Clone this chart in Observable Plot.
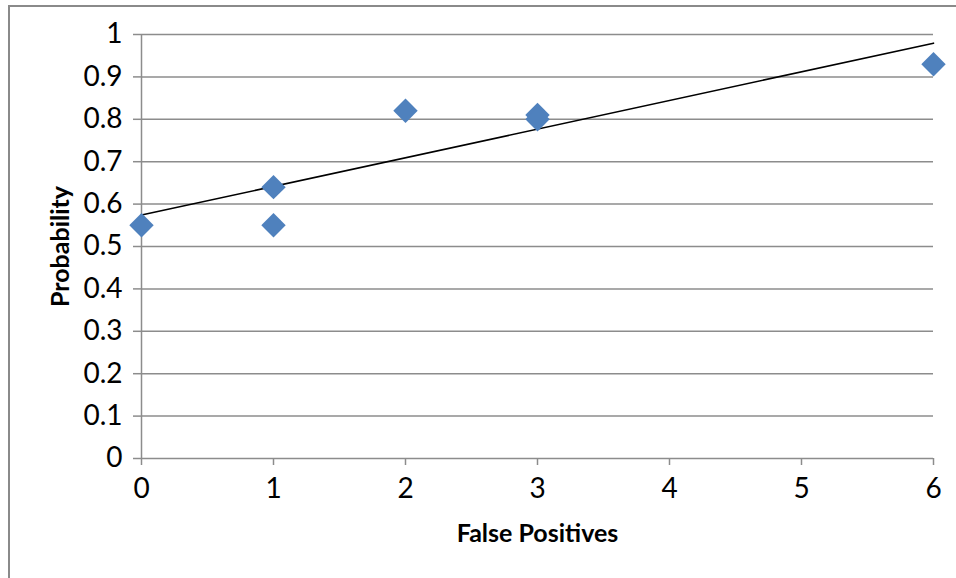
<!DOCTYPE html>
<html>
<head>
<meta charset="utf-8">
<script src="https://cdn.jsdelivr.net/npm/d3@7"></script>
<script src="https://cdn.jsdelivr.net/npm/@observablehq/plot@0.6"></script>
<style>
  html, body { margin: 0; padding: 0; background: #fff; }
  #wrap { position: relative; width: 956px; height: 578px; overflow: hidden; }
  #frame { position: absolute; left: 8px; top: 5px; width: 1000px; height: 1000px;
           border-left: 2px solid #8a8a8a; border-top: 2px solid #8a8a8a; box-sizing: border-box; }
  #chart { position: absolute; left: 0; top: 0; }
  #chart svg g[aria-label="y-axis tick label"] text,
  #chart svg g[aria-label="x-axis tick label"] text { font-size: 28px; }
  #chart svg g[aria-label="text"] text { font-size: 25px; }
</style>
</head>
<body>
<div id="wrap"><div id="frame"></div><div id="chart"></div></div>
<script>
const falsePositives = [0, 1, 1, 2, 3, 3, 6];
const probability = [0.55, 0.64, 0.55, 0.82, 0.81, 0.80, 0.93];
const xTicks = [0, 1, 2, 3, 4, 5, 6];
const yTicks = [0, 0.1, 0.2, 0.3, 0.4, 0.5, 0.6, 0.7, 0.8, 0.9, 1];
const xTitle = "False Positives";
const yTitle = "Probability";

const data = falsePositives.map((x, i) => ({x, y: probability[i]}));
const gray = "#8c8c8c";
const font = "Lato, 'Open Sans', sans-serif";

const chart = Plot.plot({
  width: 956,
  height: 578,
  marginLeft: 141,
  marginRight: 23,
  marginTop: 34,
  marginBottom: 120,
  style: {fontFamily: font, fontSize: "20px", color: "#000", background: "transparent"},
  x: {domain: [0, 6]},
  y: {domain: [0, 1]},
  marks: [
    Plot.ruleY(yTicks, {x1: 0, x2: 6, stroke: gray, strokeWidth: 1.5}),
    Plot.ruleX([0], {y1: 0, y2: 1, stroke: gray, strokeWidth: 1.5}),
    Plot.axisY({ticks: yTicks, tickSize: 8, tickPadding: 11, stroke: gray, strokeWidth: 1.5, strokeOpacity: 1,
                tickFormat: d => String(+d.toFixed(1)), fill: "#000", label: null}),
    Plot.axisX({ticks: xTicks, tickSize: 7, tickPadding: 13, stroke: gray, strokeWidth: 1.5, strokeOpacity: 1,
                tickFormat: d => String(d), fill: "#000", label: null}),
    Plot.linearRegressionY(data, {x: "x", y: "y", ci: 0, stroke: "#000", strokeWidth: 1.6}),
    Plot.dot(data, {x: "x", y: "y", symbol: "diamond2", r: 11, fill: "#4F81BD", stroke: "none"}),
    Plot.text([xTitle], {frameAnchor: "bottom", lineAnchor: "middle", dy: 75, fontWeight: "bold", fill: "#000"}),
    Plot.text([yTitle], {frameAnchor: "left", textAnchor: "middle", lineAnchor: "middle", dx: -81, rotate: -90, fontWeight: "bold", fill: "#000"})
  ]
});
document.getElementById("chart").appendChild(chart);
</script>
</body>
</html>
